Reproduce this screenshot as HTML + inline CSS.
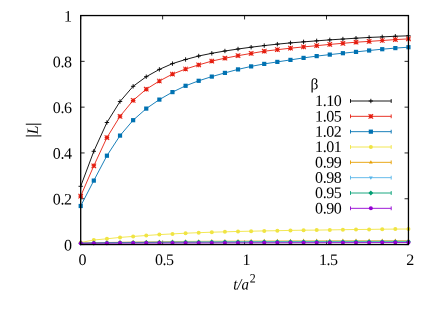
<!DOCTYPE html>
<html><head><meta charset="utf-8"><style>html,body{margin:0;padding:0;background:#fff;}body{width:442px;height:309px;overflow:hidden;position:relative;font-family:"Liberation Serif",serif;}</style></head><body><svg width="442" height="309" viewBox="0 0 442 309" style="position:absolute;left:0;top:0;will-change:transform">
<rect width="442" height="309" fill="#fff"/>
<path d="M80.7 244.55h3.9M408.45 244.55h-3.9M80.7 198.75h3.9M408.45 198.75h-3.9M80.7 152.95h3.9M408.45 152.95h-3.9M80.7 107.15h3.9M408.45 107.15h-3.9M80.7 61.35h3.9M408.45 61.35h-3.9M80.7 15.55h3.9M408.45 15.55h-3.9M80.70 244.55v-3.9M80.70 15.55v3.9M162.64 244.55v-3.9M162.64 15.55v3.9M244.57 244.55v-3.9M244.57 15.55v3.9M326.51 244.55v-3.9M326.51 15.55v3.9M408.45 244.55v-3.9M408.45 15.55v3.9" stroke="#000" stroke-width="0.85" fill="none"/>
<path d="M350.5 101.00H391.2M350.5 99.10v3.8M391.2 99.10v3.8" stroke="#000000" stroke-width="0.9" fill="none"/>
<path d="M368.65 101.00H373.05M370.85 98.80V103.20" stroke="#000000" stroke-width="0.9" fill="none"/>
<polyline points="80.70,186.30 93.81,151.30 106.92,122.50 120.03,101.50 133.14,86.30 146.25,76.70 159.36,69.40 172.47,63.60 185.58,59.50 198.69,56.00 211.80,53.30 224.91,51.00 238.02,49.00 251.13,47.20 264.24,45.60 277.35,44.15 290.46,42.90 303.57,41.85 316.68,40.85 329.79,39.85 342.90,39.05 356.01,38.20 369.12,37.45 382.23,36.90 395.34,36.25 408.45,35.80" fill="none" stroke="#000000" stroke-width="0.9" stroke-linejoin="round"/>
<path d="M78.50 186.30H82.90M80.70 184.10V188.50" stroke="#000000" stroke-width="0.9" fill="none"/>
<path d="M91.61 151.30H96.01M93.81 149.10V153.50" stroke="#000000" stroke-width="0.9" fill="none"/>
<path d="M104.72 122.50H109.12M106.92 120.30V124.70" stroke="#000000" stroke-width="0.9" fill="none"/>
<path d="M117.83 101.50H122.23M120.03 99.30V103.70" stroke="#000000" stroke-width="0.9" fill="none"/>
<path d="M130.94 86.30H135.34M133.14 84.10V88.50" stroke="#000000" stroke-width="0.9" fill="none"/>
<path d="M144.05 76.70H148.45M146.25 74.50V78.90" stroke="#000000" stroke-width="0.9" fill="none"/>
<path d="M157.16 69.40H161.56M159.36 67.20V71.60" stroke="#000000" stroke-width="0.9" fill="none"/>
<path d="M170.27 63.60H174.67M172.47 61.40V65.80" stroke="#000000" stroke-width="0.9" fill="none"/>
<path d="M183.38 59.50H187.78M185.58 57.30V61.70" stroke="#000000" stroke-width="0.9" fill="none"/>
<path d="M196.49 56.00H200.89M198.69 53.80V58.20" stroke="#000000" stroke-width="0.9" fill="none"/>
<path d="M209.60 53.30H214.00M211.80 51.10V55.50" stroke="#000000" stroke-width="0.9" fill="none"/>
<path d="M222.71 51.00H227.11M224.91 48.80V53.20" stroke="#000000" stroke-width="0.9" fill="none"/>
<path d="M235.82 49.00H240.22M238.02 46.80V51.20" stroke="#000000" stroke-width="0.9" fill="none"/>
<path d="M248.93 47.20H253.33M251.13 45.00V49.40" stroke="#000000" stroke-width="0.9" fill="none"/>
<path d="M262.04 45.60H266.44M264.24 43.40V47.80" stroke="#000000" stroke-width="0.9" fill="none"/>
<path d="M275.15 44.15H279.55M277.35 41.95V46.35" stroke="#000000" stroke-width="0.9" fill="none"/>
<path d="M288.26 42.90H292.66M290.46 40.70V45.10" stroke="#000000" stroke-width="0.9" fill="none"/>
<path d="M301.37 41.85H305.77M303.57 39.65V44.05" stroke="#000000" stroke-width="0.9" fill="none"/>
<path d="M314.48 40.85H318.88M316.68 38.65V43.05" stroke="#000000" stroke-width="0.9" fill="none"/>
<path d="M327.59 39.85H331.99M329.79 37.65V42.05" stroke="#000000" stroke-width="0.9" fill="none"/>
<path d="M340.70 39.05H345.10M342.90 36.85V41.25" stroke="#000000" stroke-width="0.9" fill="none"/>
<path d="M353.81 38.20H358.21M356.01 36.00V40.40" stroke="#000000" stroke-width="0.9" fill="none"/>
<path d="M366.92 37.45H371.32M369.12 35.25V39.65" stroke="#000000" stroke-width="0.9" fill="none"/>
<path d="M380.03 36.90H384.43M382.23 34.70V39.10" stroke="#000000" stroke-width="0.9" fill="none"/>
<path d="M393.14 36.25H397.54M395.34 34.05V38.45" stroke="#000000" stroke-width="0.9" fill="none"/>
<path d="M406.25 35.80H410.65M408.45 33.60V38.00" stroke="#000000" stroke-width="0.9" fill="none"/>
<path d="M350.5 116.33H391.2M350.5 114.43v3.8M391.2 114.43v3.8" stroke="#e51e10" stroke-width="0.9" fill="none"/>
<path d="M368.60 116.33H373.10M370.85 114.08V118.58M368.60 114.08L373.10 118.58M368.60 118.58L373.10 114.08" stroke="#e51e10" stroke-width="1.05" fill="none"/>
<polyline points="80.70,196.10 93.81,165.80 106.92,137.60 120.03,116.30 133.14,100.40 146.25,89.20 159.36,81.00 172.47,74.10 185.58,69.00 198.69,64.90 211.80,61.10 224.91,58.20 238.02,55.70 251.13,53.40 264.24,51.20 277.35,49.70 290.46,48.20 303.57,46.90 316.68,45.70 329.79,44.40 342.90,43.30 356.01,42.20 369.12,41.40 382.23,40.50 395.34,39.60 408.45,38.90" fill="none" stroke="#e51e10" stroke-width="0.9" stroke-linejoin="round"/>
<path d="M78.45 196.10H82.95M80.70 193.85V198.35M78.45 193.85L82.95 198.35M78.45 198.35L82.95 193.85" stroke="#e51e10" stroke-width="1.05" fill="none"/>
<path d="M91.56 165.80H96.06M93.81 163.55V168.05M91.56 163.55L96.06 168.05M91.56 168.05L96.06 163.55" stroke="#e51e10" stroke-width="1.05" fill="none"/>
<path d="M104.67 137.60H109.17M106.92 135.35V139.85M104.67 135.35L109.17 139.85M104.67 139.85L109.17 135.35" stroke="#e51e10" stroke-width="1.05" fill="none"/>
<path d="M117.78 116.30H122.28M120.03 114.05V118.55M117.78 114.05L122.28 118.55M117.78 118.55L122.28 114.05" stroke="#e51e10" stroke-width="1.05" fill="none"/>
<path d="M130.89 100.40H135.39M133.14 98.15V102.65M130.89 98.15L135.39 102.65M130.89 102.65L135.39 98.15" stroke="#e51e10" stroke-width="1.05" fill="none"/>
<path d="M144.00 89.20H148.50M146.25 86.95V91.45M144.00 86.95L148.50 91.45M144.00 91.45L148.50 86.95" stroke="#e51e10" stroke-width="1.05" fill="none"/>
<path d="M157.11 81.00H161.61M159.36 78.75V83.25M157.11 78.75L161.61 83.25M157.11 83.25L161.61 78.75" stroke="#e51e10" stroke-width="1.05" fill="none"/>
<path d="M170.22 74.10H174.72M172.47 71.85V76.35M170.22 71.85L174.72 76.35M170.22 76.35L174.72 71.85" stroke="#e51e10" stroke-width="1.05" fill="none"/>
<path d="M183.33 69.00H187.83M185.58 66.75V71.25M183.33 66.75L187.83 71.25M183.33 71.25L187.83 66.75" stroke="#e51e10" stroke-width="1.05" fill="none"/>
<path d="M196.44 64.90H200.94M198.69 62.65V67.15M196.44 62.65L200.94 67.15M196.44 67.15L200.94 62.65" stroke="#e51e10" stroke-width="1.05" fill="none"/>
<path d="M209.55 61.10H214.05M211.80 58.85V63.35M209.55 58.85L214.05 63.35M209.55 63.35L214.05 58.85" stroke="#e51e10" stroke-width="1.05" fill="none"/>
<path d="M222.66 58.20H227.16M224.91 55.95V60.45M222.66 55.95L227.16 60.45M222.66 60.45L227.16 55.95" stroke="#e51e10" stroke-width="1.05" fill="none"/>
<path d="M235.77 55.70H240.27M238.02 53.45V57.95M235.77 53.45L240.27 57.95M235.77 57.95L240.27 53.45" stroke="#e51e10" stroke-width="1.05" fill="none"/>
<path d="M248.88 53.40H253.38M251.13 51.15V55.65M248.88 51.15L253.38 55.65M248.88 55.65L253.38 51.15" stroke="#e51e10" stroke-width="1.05" fill="none"/>
<path d="M261.99 51.20H266.49M264.24 48.95V53.45M261.99 48.95L266.49 53.45M261.99 53.45L266.49 48.95" stroke="#e51e10" stroke-width="1.05" fill="none"/>
<path d="M275.10 49.70H279.60M277.35 47.45V51.95M275.10 47.45L279.60 51.95M275.10 51.95L279.60 47.45" stroke="#e51e10" stroke-width="1.05" fill="none"/>
<path d="M288.21 48.20H292.71M290.46 45.95V50.45M288.21 45.95L292.71 50.45M288.21 50.45L292.71 45.95" stroke="#e51e10" stroke-width="1.05" fill="none"/>
<path d="M301.32 46.90H305.82M303.57 44.65V49.15M301.32 44.65L305.82 49.15M301.32 49.15L305.82 44.65" stroke="#e51e10" stroke-width="1.05" fill="none"/>
<path d="M314.43 45.70H318.93M316.68 43.45V47.95M314.43 43.45L318.93 47.95M314.43 47.95L318.93 43.45" stroke="#e51e10" stroke-width="1.05" fill="none"/>
<path d="M327.54 44.40H332.04M329.79 42.15V46.65M327.54 42.15L332.04 46.65M327.54 46.65L332.04 42.15" stroke="#e51e10" stroke-width="1.05" fill="none"/>
<path d="M340.65 43.30H345.15M342.90 41.05V45.55M340.65 41.05L345.15 45.55M340.65 45.55L345.15 41.05" stroke="#e51e10" stroke-width="1.05" fill="none"/>
<path d="M353.76 42.20H358.26M356.01 39.95V44.45M353.76 39.95L358.26 44.45M353.76 44.45L358.26 39.95" stroke="#e51e10" stroke-width="1.05" fill="none"/>
<path d="M366.87 41.40H371.37M369.12 39.15V43.65M366.87 39.15L371.37 43.65M366.87 43.65L371.37 39.15" stroke="#e51e10" stroke-width="1.05" fill="none"/>
<path d="M379.98 40.50H384.48M382.23 38.25V42.75M379.98 38.25L384.48 42.75M379.98 42.75L384.48 38.25" stroke="#e51e10" stroke-width="1.05" fill="none"/>
<path d="M393.09 39.60H397.59M395.34 37.35V41.85M393.09 37.35L397.59 41.85M393.09 41.85L397.59 37.35" stroke="#e51e10" stroke-width="1.05" fill="none"/>
<path d="M406.20 38.90H410.70M408.45 36.65V41.15M406.20 36.65L410.70 41.15M406.20 41.15L410.70 36.65" stroke="#e51e10" stroke-width="1.05" fill="none"/>
<path d="M350.5 131.67H391.2M350.5 129.77v3.8M391.2 129.77v3.8" stroke="#0072b2" stroke-width="0.9" fill="none"/>
<rect x="368.75" y="129.57" width="4.2" height="4.2" fill="#0072b2"/>
<polyline points="80.70,206.00 93.81,180.60 106.92,155.70 120.03,135.60 133.14,120.20 146.25,108.60 159.36,99.60 172.47,92.10 185.58,85.80 198.69,80.80 211.80,76.60 224.91,72.90 238.02,69.40 251.13,66.40 264.24,63.90 277.35,61.90 290.46,59.90 303.57,57.90 316.68,56.10 329.79,54.60 342.90,53.20 356.01,51.90 369.12,50.50 382.23,49.20 395.34,48.10 408.45,47.20" fill="none" stroke="#0072b2" stroke-width="0.9" stroke-linejoin="round"/>
<rect x="78.60" y="203.90" width="4.2" height="4.2" fill="#0072b2"/>
<rect x="91.71" y="178.50" width="4.2" height="4.2" fill="#0072b2"/>
<rect x="104.82" y="153.60" width="4.2" height="4.2" fill="#0072b2"/>
<rect x="117.93" y="133.50" width="4.2" height="4.2" fill="#0072b2"/>
<rect x="131.04" y="118.10" width="4.2" height="4.2" fill="#0072b2"/>
<rect x="144.15" y="106.50" width="4.2" height="4.2" fill="#0072b2"/>
<rect x="157.26" y="97.50" width="4.2" height="4.2" fill="#0072b2"/>
<rect x="170.37" y="90.00" width="4.2" height="4.2" fill="#0072b2"/>
<rect x="183.48" y="83.70" width="4.2" height="4.2" fill="#0072b2"/>
<rect x="196.59" y="78.70" width="4.2" height="4.2" fill="#0072b2"/>
<rect x="209.70" y="74.50" width="4.2" height="4.2" fill="#0072b2"/>
<rect x="222.81" y="70.80" width="4.2" height="4.2" fill="#0072b2"/>
<rect x="235.92" y="67.30" width="4.2" height="4.2" fill="#0072b2"/>
<rect x="249.03" y="64.30" width="4.2" height="4.2" fill="#0072b2"/>
<rect x="262.14" y="61.80" width="4.2" height="4.2" fill="#0072b2"/>
<rect x="275.25" y="59.80" width="4.2" height="4.2" fill="#0072b2"/>
<rect x="288.36" y="57.80" width="4.2" height="4.2" fill="#0072b2"/>
<rect x="301.47" y="55.80" width="4.2" height="4.2" fill="#0072b2"/>
<rect x="314.58" y="54.00" width="4.2" height="4.2" fill="#0072b2"/>
<rect x="327.69" y="52.50" width="4.2" height="4.2" fill="#0072b2"/>
<rect x="340.80" y="51.10" width="4.2" height="4.2" fill="#0072b2"/>
<rect x="353.91" y="49.80" width="4.2" height="4.2" fill="#0072b2"/>
<rect x="367.02" y="48.40" width="4.2" height="4.2" fill="#0072b2"/>
<rect x="380.13" y="47.10" width="4.2" height="4.2" fill="#0072b2"/>
<rect x="393.24" y="46.00" width="4.2" height="4.2" fill="#0072b2"/>
<rect x="406.35" y="45.10" width="4.2" height="4.2" fill="#0072b2"/>
<path d="M350.5 147.00H391.2M350.5 145.10v3.8M391.2 145.10v3.8" stroke="#f0e442" stroke-width="0.9" fill="none"/>
<circle cx="370.85" cy="147.00" r="2.0" fill="#f0e442"/>
<polyline points="80.70,242.50 93.81,240.00 106.92,238.80 120.03,237.40 133.14,236.45 146.25,235.50 159.36,234.60 172.47,233.90 185.58,233.20 198.69,232.70 211.80,232.20 224.91,231.85 238.02,231.45 251.13,231.20 264.24,230.90 277.35,230.70 290.46,230.40 303.57,230.20 316.68,230.10 329.79,229.90 342.90,229.70 356.01,229.50 369.12,229.40 382.23,229.20 395.34,229.10 408.45,229.00" fill="none" stroke="#f0e442" stroke-width="0.9" stroke-linejoin="round"/>
<circle cx="80.70" cy="242.50" r="2.0" fill="#f0e442"/>
<circle cx="93.81" cy="240.00" r="2.0" fill="#f0e442"/>
<circle cx="106.92" cy="238.80" r="2.0" fill="#f0e442"/>
<circle cx="120.03" cy="237.40" r="2.0" fill="#f0e442"/>
<circle cx="133.14" cy="236.45" r="2.0" fill="#f0e442"/>
<circle cx="146.25" cy="235.50" r="2.0" fill="#f0e442"/>
<circle cx="159.36" cy="234.60" r="2.0" fill="#f0e442"/>
<circle cx="172.47" cy="233.90" r="2.0" fill="#f0e442"/>
<circle cx="185.58" cy="233.20" r="2.0" fill="#f0e442"/>
<circle cx="198.69" cy="232.70" r="2.0" fill="#f0e442"/>
<circle cx="211.80" cy="232.20" r="2.0" fill="#f0e442"/>
<circle cx="224.91" cy="231.85" r="2.0" fill="#f0e442"/>
<circle cx="238.02" cy="231.45" r="2.0" fill="#f0e442"/>
<circle cx="251.13" cy="231.20" r="2.0" fill="#f0e442"/>
<circle cx="264.24" cy="230.90" r="2.0" fill="#f0e442"/>
<circle cx="277.35" cy="230.70" r="2.0" fill="#f0e442"/>
<circle cx="290.46" cy="230.40" r="2.0" fill="#f0e442"/>
<circle cx="303.57" cy="230.20" r="2.0" fill="#f0e442"/>
<circle cx="316.68" cy="230.10" r="2.0" fill="#f0e442"/>
<circle cx="329.79" cy="229.90" r="2.0" fill="#f0e442"/>
<circle cx="342.90" cy="229.70" r="2.0" fill="#f0e442"/>
<circle cx="356.01" cy="229.50" r="2.0" fill="#f0e442"/>
<circle cx="369.12" cy="229.40" r="2.0" fill="#f0e442"/>
<circle cx="382.23" cy="229.20" r="2.0" fill="#f0e442"/>
<circle cx="395.34" cy="229.10" r="2.0" fill="#f0e442"/>
<circle cx="408.45" cy="229.00" r="2.0" fill="#f0e442"/>
<path d="M350.5 162.33H391.2M350.5 160.43v3.8M391.2 160.43v3.8" stroke="#e69f00" stroke-width="0.9" fill="none"/>
<path d="M370.85 160.15L368.95 163.47L372.75 163.47Z" fill="#e69f00"/>
<polyline points="80.70,243.20 93.81,242.79 106.92,242.47 120.03,242.22 133.14,242.00 146.25,241.82 159.36,241.67 172.47,241.54 185.58,241.42 198.69,241.32 211.80,241.23 224.91,241.15 238.02,241.08 251.13,241.02 264.24,240.96 277.35,240.90 290.46,240.85 303.57,240.81 316.68,240.77 329.79,240.73 342.90,240.69 356.01,240.66 369.12,240.63 382.23,240.60 395.34,240.58 408.45,240.55" fill="none" stroke="#e69f00" stroke-width="0.7" stroke-linejoin="round"/>
<path d="M80.70 241.01L78.80 244.34L82.60 244.34Z" fill="#e69f00"/>
<path d="M93.81 240.61L91.91 243.93L95.71 243.93Z" fill="#e69f00"/>
<path d="M106.92 240.29L105.02 243.61L108.82 243.61Z" fill="#e69f00"/>
<path d="M120.03 240.03L118.13 243.36L121.93 243.36Z" fill="#e69f00"/>
<path d="M133.14 239.82L131.24 243.14L135.04 243.14Z" fill="#e69f00"/>
<path d="M146.25 239.64L144.35 242.96L148.15 242.96Z" fill="#e69f00"/>
<path d="M159.36 239.48L157.46 242.81L161.26 242.81Z" fill="#e69f00"/>
<path d="M172.47 239.35L170.57 242.68L174.37 242.68Z" fill="#e69f00"/>
<path d="M185.58 239.24L183.68 242.56L187.48 242.56Z" fill="#e69f00"/>
<path d="M198.69 239.14L196.79 242.46L200.59 242.46Z" fill="#e69f00"/>
<path d="M211.80 239.05L209.90 242.37L213.70 242.37Z" fill="#e69f00"/>
<path d="M224.91 238.97L223.01 242.29L226.81 242.29Z" fill="#e69f00"/>
<path d="M238.02 238.89L236.12 242.22L239.92 242.22Z" fill="#e69f00"/>
<path d="M251.13 238.83L249.23 242.16L253.03 242.16Z" fill="#e69f00"/>
<path d="M264.24 238.77L262.34 242.10L266.14 242.10Z" fill="#e69f00"/>
<path d="M277.35 238.72L275.45 242.04L279.25 242.04Z" fill="#e69f00"/>
<path d="M290.46 238.67L288.56 241.99L292.36 241.99Z" fill="#e69f00"/>
<path d="M303.57 238.62L301.67 241.95L305.47 241.95Z" fill="#e69f00"/>
<path d="M316.68 238.58L314.78 241.91L318.58 241.91Z" fill="#e69f00"/>
<path d="M329.79 238.54L327.89 241.87L331.69 241.87Z" fill="#e69f00"/>
<path d="M342.90 238.51L341.00 241.83L344.80 241.83Z" fill="#e69f00"/>
<path d="M356.01 238.48L354.11 241.80L357.91 241.80Z" fill="#e69f00"/>
<path d="M369.12 238.45L367.22 241.77L371.02 241.77Z" fill="#e69f00"/>
<path d="M382.23 238.42L380.33 241.74L384.13 241.74Z" fill="#e69f00"/>
<path d="M395.34 238.39L393.44 241.72L397.24 241.72Z" fill="#e69f00"/>
<path d="M408.45 238.36L406.55 241.69L410.35 241.69Z" fill="#e69f00"/>
<path d="M350.5 177.67H391.2M350.5 175.77v3.8M391.2 175.77v3.8" stroke="#56b4e9" stroke-width="0.9" fill="none"/>
<path d="M370.85 179.85L368.95 176.53L372.75 176.53Z" fill="#56b4e9"/>
<polyline points="80.70,243.20 93.81,242.90 106.92,242.67 120.03,242.48 133.14,242.32 146.25,242.19 159.36,242.07 172.47,241.98 185.58,241.89 198.69,241.82 211.80,241.75 224.91,241.69 238.02,241.64 251.13,241.59 264.24,241.55 277.35,241.51 290.46,241.47 303.57,241.44 316.68,241.41 329.79,241.38 342.90,241.36 356.01,241.33 369.12,241.31 382.23,241.29 395.34,241.27 408.45,241.25" fill="none" stroke="#56b4e9" stroke-width="0.7" stroke-linejoin="round"/>
<path d="M80.70 245.38L78.80 242.06L82.60 242.06Z" fill="#56b4e9"/>
<path d="M93.81 245.09L91.91 241.76L95.71 241.76Z" fill="#56b4e9"/>
<path d="M106.92 244.85L105.02 241.53L108.82 241.53Z" fill="#56b4e9"/>
<path d="M120.03 244.66L118.13 241.34L121.93 241.34Z" fill="#56b4e9"/>
<path d="M133.14 244.50L131.24 241.18L135.04 241.18Z" fill="#56b4e9"/>
<path d="M146.25 244.37L144.35 241.05L148.15 241.05Z" fill="#56b4e9"/>
<path d="M159.36 244.26L157.46 240.93L161.26 240.93Z" fill="#56b4e9"/>
<path d="M172.47 244.16L170.57 240.84L174.37 240.84Z" fill="#56b4e9"/>
<path d="M185.58 244.08L183.68 240.75L187.48 240.75Z" fill="#56b4e9"/>
<path d="M198.69 244.00L196.79 240.68L200.59 240.68Z" fill="#56b4e9"/>
<path d="M211.80 243.94L209.90 240.61L213.70 240.61Z" fill="#56b4e9"/>
<path d="M224.91 243.88L223.01 240.55L226.81 240.55Z" fill="#56b4e9"/>
<path d="M238.02 243.82L236.12 240.50L239.92 240.50Z" fill="#56b4e9"/>
<path d="M251.13 243.78L249.23 240.45L253.03 240.45Z" fill="#56b4e9"/>
<path d="M264.24 243.73L262.34 240.41L266.14 240.41Z" fill="#56b4e9"/>
<path d="M277.35 243.69L275.45 240.37L279.25 240.37Z" fill="#56b4e9"/>
<path d="M290.46 243.66L288.56 240.33L292.36 240.33Z" fill="#56b4e9"/>
<path d="M303.57 243.63L301.67 240.30L305.47 240.30Z" fill="#56b4e9"/>
<path d="M316.68 243.60L314.78 240.27L318.58 240.27Z" fill="#56b4e9"/>
<path d="M329.79 243.57L327.89 240.24L331.69 240.24Z" fill="#56b4e9"/>
<path d="M342.90 243.54L341.00 240.22L344.80 240.22Z" fill="#56b4e9"/>
<path d="M356.01 243.52L354.11 240.19L357.91 240.19Z" fill="#56b4e9"/>
<path d="M369.12 243.49L367.22 240.17L371.02 240.17Z" fill="#56b4e9"/>
<path d="M382.23 243.47L380.33 240.15L384.13 240.15Z" fill="#56b4e9"/>
<path d="M395.34 243.45L393.44 240.13L397.24 240.13Z" fill="#56b4e9"/>
<path d="M408.45 243.44L406.55 240.11L410.35 240.11Z" fill="#56b4e9"/>
<path d="M350.5 193.00H391.2M350.5 191.10v3.8M391.2 191.10v3.8" stroke="#009e73" stroke-width="0.9" fill="none"/>
<path d="M370.85 190.60L368.45 193.00L370.85 195.40L373.25 193.00Z" fill="#009e73"/>
<polyline points="80.70,243.20 93.81,242.99 106.92,242.82 120.03,242.68 133.14,242.57 146.25,242.47 159.36,242.39 172.47,242.32 185.58,242.26 198.69,242.21 211.80,242.16 224.91,242.12 238.02,242.08 251.13,242.05 264.24,242.01 277.35,241.99 290.46,241.96 303.57,241.94 316.68,241.92 329.79,241.90 342.90,241.88 356.01,241.86 369.12,241.84 382.23,241.83 395.34,241.81 408.45,241.80" fill="none" stroke="#009e73" stroke-width="0.7" stroke-linejoin="round"/>
<path d="M80.70 240.80L78.30 243.20L80.70 245.60L83.10 243.20Z" fill="#009e73"/>
<path d="M93.81 240.59L91.41 242.99L93.81 245.39L96.21 242.99Z" fill="#009e73"/>
<path d="M106.92 240.42L104.52 242.82L106.92 245.22L109.32 242.82Z" fill="#009e73"/>
<path d="M120.03 240.28L117.63 242.68L120.03 245.08L122.43 242.68Z" fill="#009e73"/>
<path d="M133.14 240.17L130.74 242.57L133.14 244.97L135.54 242.57Z" fill="#009e73"/>
<path d="M146.25 240.07L143.85 242.47L146.25 244.87L148.65 242.47Z" fill="#009e73"/>
<path d="M159.36 239.99L156.96 242.39L159.36 244.79L161.76 242.39Z" fill="#009e73"/>
<path d="M172.47 239.92L170.07 242.32L172.47 244.72L174.87 242.32Z" fill="#009e73"/>
<path d="M185.58 239.86L183.18 242.26L185.58 244.66L187.98 242.26Z" fill="#009e73"/>
<path d="M198.69 239.81L196.29 242.21L198.69 244.61L201.09 242.21Z" fill="#009e73"/>
<path d="M211.80 239.76L209.40 242.16L211.80 244.56L214.20 242.16Z" fill="#009e73"/>
<path d="M224.91 239.72L222.51 242.12L224.91 244.52L227.31 242.12Z" fill="#009e73"/>
<path d="M238.02 239.68L235.62 242.08L238.02 244.48L240.42 242.08Z" fill="#009e73"/>
<path d="M251.13 239.65L248.73 242.05L251.13 244.45L253.53 242.05Z" fill="#009e73"/>
<path d="M264.24 239.61L261.84 242.01L264.24 244.41L266.64 242.01Z" fill="#009e73"/>
<path d="M277.35 239.59L274.95 241.99L277.35 244.39L279.75 241.99Z" fill="#009e73"/>
<path d="M290.46 239.56L288.06 241.96L290.46 244.36L292.86 241.96Z" fill="#009e73"/>
<path d="M303.57 239.54L301.17 241.94L303.57 244.34L305.97 241.94Z" fill="#009e73"/>
<path d="M316.68 239.52L314.28 241.92L316.68 244.32L319.08 241.92Z" fill="#009e73"/>
<path d="M329.79 239.50L327.39 241.90L329.79 244.30L332.19 241.90Z" fill="#009e73"/>
<path d="M342.90 239.48L340.50 241.88L342.90 244.28L345.30 241.88Z" fill="#009e73"/>
<path d="M356.01 239.46L353.61 241.86L356.01 244.26L358.41 241.86Z" fill="#009e73"/>
<path d="M369.12 239.44L366.72 241.84L369.12 244.24L371.52 241.84Z" fill="#009e73"/>
<path d="M382.23 239.43L379.83 241.83L382.23 244.23L384.63 241.83Z" fill="#009e73"/>
<path d="M395.34 239.41L392.94 241.81L395.34 244.21L397.74 241.81Z" fill="#009e73"/>
<path d="M408.45 239.40L406.05 241.80L408.45 244.20L410.85 241.80Z" fill="#009e73"/>
<path d="M350.5 208.33H391.2M350.5 206.43v3.8M391.2 206.43v3.8" stroke="#9400d3" stroke-width="0.9" fill="none"/>
<circle cx="370.85" cy="208.33" r="2.0" fill="#9400d3"/>
<polyline points="80.70,243.20 93.81,243.17 106.92,243.15 120.03,243.12 133.14,243.10 146.25,243.07 159.36,243.04 172.47,243.02 185.58,242.99 198.69,242.97 211.80,242.94 224.91,242.91 238.02,242.89 251.13,242.86 264.24,242.84 277.35,242.81 290.46,242.78 303.57,242.76 316.68,242.73 329.79,242.71 342.90,242.68 356.01,242.65 369.12,242.63 382.23,242.60 395.34,242.58 408.45,242.55" fill="none" stroke="#9400d3" stroke-width="0.9" stroke-linejoin="round"/>
<circle cx="80.70" cy="243.20" r="2.0" fill="#9400d3"/>
<circle cx="93.81" cy="243.17" r="2.0" fill="#9400d3"/>
<circle cx="106.92" cy="243.15" r="2.0" fill="#9400d3"/>
<circle cx="120.03" cy="243.12" r="2.0" fill="#9400d3"/>
<circle cx="133.14" cy="243.10" r="2.0" fill="#9400d3"/>
<circle cx="146.25" cy="243.07" r="2.0" fill="#9400d3"/>
<circle cx="159.36" cy="243.04" r="2.0" fill="#9400d3"/>
<circle cx="172.47" cy="243.02" r="2.0" fill="#9400d3"/>
<circle cx="185.58" cy="242.99" r="2.0" fill="#9400d3"/>
<circle cx="198.69" cy="242.97" r="2.0" fill="#9400d3"/>
<circle cx="211.80" cy="242.94" r="2.0" fill="#9400d3"/>
<circle cx="224.91" cy="242.91" r="2.0" fill="#9400d3"/>
<circle cx="238.02" cy="242.89" r="2.0" fill="#9400d3"/>
<circle cx="251.13" cy="242.86" r="2.0" fill="#9400d3"/>
<circle cx="264.24" cy="242.84" r="2.0" fill="#9400d3"/>
<circle cx="277.35" cy="242.81" r="2.0" fill="#9400d3"/>
<circle cx="290.46" cy="242.78" r="2.0" fill="#9400d3"/>
<circle cx="303.57" cy="242.76" r="2.0" fill="#9400d3"/>
<circle cx="316.68" cy="242.73" r="2.0" fill="#9400d3"/>
<circle cx="329.79" cy="242.71" r="2.0" fill="#9400d3"/>
<circle cx="342.90" cy="242.68" r="2.0" fill="#9400d3"/>
<circle cx="356.01" cy="242.65" r="2.0" fill="#9400d3"/>
<circle cx="369.12" cy="242.63" r="2.0" fill="#9400d3"/>
<circle cx="382.23" cy="242.60" r="2.0" fill="#9400d3"/>
<circle cx="395.34" cy="242.58" r="2.0" fill="#9400d3"/>
<circle cx="408.45" cy="242.55" r="2.0" fill="#9400d3"/>
<rect x="80.7" y="15.55" width="327.75" height="229.00" fill="none" stroke="#000" stroke-width="1.3"/>
<text transform="translate(71.50 250.40) rotate(0.05) scale(1.0 1)" text-anchor="end" font-family="Liberation Serif" font-size="16" letter-spacing="-0.45">0</text>
<text transform="translate(71.50 204.60) rotate(0.05) scale(1.0 1)" text-anchor="end" font-family="Liberation Serif" font-size="16" letter-spacing="-0.45">0.2</text>
<text transform="translate(71.50 158.80) rotate(0.05) scale(1.0 1)" text-anchor="end" font-family="Liberation Serif" font-size="16" letter-spacing="-0.45">0.4</text>
<text transform="translate(71.50 113.00) rotate(0.05) scale(1.0 1)" text-anchor="end" font-family="Liberation Serif" font-size="16" letter-spacing="-0.45">0.6</text>
<text transform="translate(71.50 67.20) rotate(0.05) scale(1.0 1)" text-anchor="end" font-family="Liberation Serif" font-size="16" letter-spacing="-0.45">0.8</text>
<text transform="translate(71.50 21.40) rotate(0.05) scale(1.0 1)" text-anchor="end" font-family="Liberation Serif" font-size="16" letter-spacing="-0.45">1</text>
<text transform="translate(82.40 265.05) rotate(0.05) scale(1.0 1)" text-anchor="middle" font-family="Liberation Serif" font-size="16" letter-spacing="-0.45">0</text>
<text transform="translate(164.34 265.05) rotate(0.05) scale(1.0 1)" text-anchor="middle" font-family="Liberation Serif" font-size="16" letter-spacing="-0.45">0.5</text>
<text transform="translate(246.27 265.05) rotate(0.05) scale(1.0 1)" text-anchor="middle" font-family="Liberation Serif" font-size="16" letter-spacing="-0.45">1</text>
<text transform="translate(328.21 265.05) rotate(0.05) scale(1.0 1)" text-anchor="middle" font-family="Liberation Serif" font-size="16" letter-spacing="-0.45">1.5</text>
<text transform="translate(410.15 265.05) rotate(0.05) scale(1.0 1)" text-anchor="middle" font-family="Liberation Serif" font-size="16" letter-spacing="-0.45">2</text>
<text transform="translate(341.30 106.10) rotate(0.05) scale(1.0 1)" text-anchor="end" font-family="Liberation Serif" font-size="16" letter-spacing="-0.45">1.10</text>
<text transform="translate(341.30 121.43) rotate(0.05) scale(1.0 1)" text-anchor="end" font-family="Liberation Serif" font-size="16" letter-spacing="-0.45">1.05</text>
<text transform="translate(341.30 136.77) rotate(0.05) scale(1.0 1)" text-anchor="end" font-family="Liberation Serif" font-size="16" letter-spacing="-0.45">1.02</text>
<text transform="translate(341.30 152.10) rotate(0.05) scale(1.0 1)" text-anchor="end" font-family="Liberation Serif" font-size="16" letter-spacing="-0.45">1.01</text>
<text transform="translate(341.30 167.43) rotate(0.05) scale(1.0 1)" text-anchor="end" font-family="Liberation Serif" font-size="16" letter-spacing="-0.45">0.99</text>
<text transform="translate(341.30 182.77) rotate(0.05) scale(1.0 1)" text-anchor="end" font-family="Liberation Serif" font-size="16" letter-spacing="-0.45">0.98</text>
<text transform="translate(341.30 198.10) rotate(0.05) scale(1.0 1)" text-anchor="end" font-family="Liberation Serif" font-size="16" letter-spacing="-0.45">0.95</text>
<text transform="translate(341.30 213.43) rotate(0.05) scale(1.0 1)" text-anchor="end" font-family="Liberation Serif" font-size="16" letter-spacing="-0.45">0.90</text>
<text transform="translate(310.50 89.20) rotate(0.05) scale(1.0 1)" text-anchor="start" font-family="Liberation Serif" font-size="15.5" >β</text>
<text transform="translate(233.20 289.50) rotate(0.05) scale(0.93 1)" text-anchor="start" font-family="Liberation Serif" font-size="16" font-style="italic">t/a<tspan font-size="12.8" dx="0.9" dy="-6.9" font-style="normal">2</tspan></text>
<text transform="translate(37.7 130) rotate(-89.95)" text-anchor="middle" font-family="Liberation Serif" font-size="15.5" font-style="italic">L</text>
<path d="M25.8 124.2H41.4M25.8 135.9H41.4" stroke="#000" stroke-width="1" fill="none"/>
</svg></body></html>
